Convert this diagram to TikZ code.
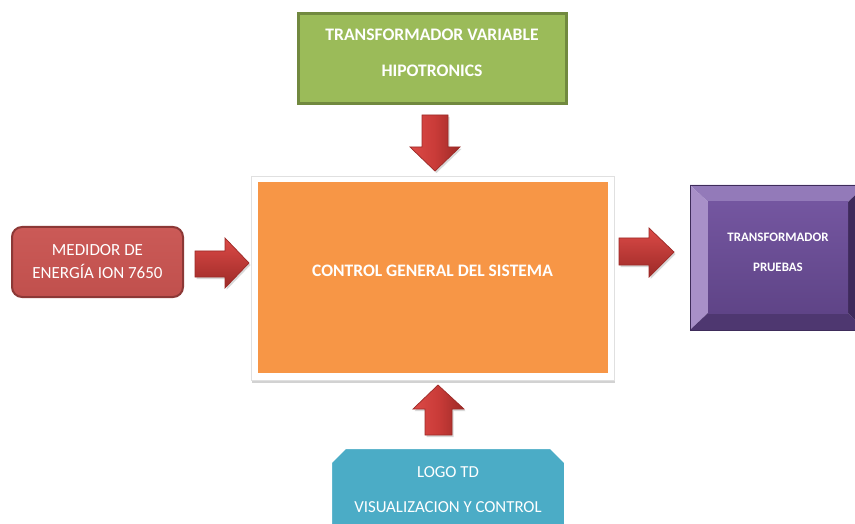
\documentclass[tikz,border=0pt]{standalone}
\usepackage{fontspec}
\setmainfont{Carlito}
\usetikzlibrary{shadows}
\definecolor{greenF}{HTML}{9BBB59}
\definecolor{greenD}{HTML}{71893F}
\definecolor{orangeF}{HTML}{F79646}
\definecolor{redF}{HTML}{C0504D}
\definecolor{redL}{HTML}{CB5A57}
\definecolor{redD}{HTML}{8C3836}
\definecolor{arrL}{HTML}{DC4A47}
\definecolor{arrM}{HTML}{C93B38}
\definecolor{arrD}{HTML}{9C2A27}
\definecolor{blueF}{HTML}{4BACC6}
\definecolor{purpC}{HTML}{7456A0}
\definecolor{purpC2}{HTML}{5F4487}
\definecolor{purpT}{HTML}{937AB9}
\definecolor{purpL}{HTML}{A890C8}
\definecolor{purpB}{HTML}{4E3770}
\definecolor{purpR}{HTML}{3E2A5B}
\tikzset{
  greenbox/.style={draw=greenD, line width=3, fill=greenF, inner sep=0},
  greentext/.style={text=white, font=\bfseries\fontsize{17.6}{36}\selectfont,
    align=center, inner sep=0},
  redbox/.style={draw=redD, line width=2, rounded corners=10, top color=redL,
    bottom color=redF, text=white, font=\fontsize{17}{23}\selectfont,
    align=center, inner sep=0},
  framebox/.style={fill=white, draw=black!12, line width=0.8,
    drop shadow={shadow xshift=1, shadow yshift=2.5, opacity=0.35}, inner sep=0},
  orangebox/.style={fill=orangeF, inner sep=0},
  whitebold/.style={text=white, font=\bfseries\fontsize{17.5}{20}\selectfont},
  purptext/.style={text=white, font=\bfseries\fontsize{12.9}{30}\selectfont, align=center},
  bluetext/.style={text=white, font=\fontsize{16.8}{35}\selectfont, align=center},
  blockarrowh/.style={draw=arrD, line width=0.7, top color=arrL, bottom color=arrD,
    drop shadow={shadow xshift=1.5, shadow yshift=2, opacity=0.3}},
  blockarrowv/.style={draw=arrD, line width=0.7, left color=arrL, right color=arrD,
    middle color=arrM, drop shadow={shadow xshift=1.5, shadow yshift=2, opacity=0.3}},
}
\begin{document}
\begin{tikzpicture}[x=1pt,y=-1pt]
\useasboundingbox (0,0) rectangle (855,524);
\fill[white] (0,0) rectangle (855,524);

% green box
\node[greenbox, minimum width=268, minimum height=90] (tv) at (432,59) {};
\node[greentext] (tvtxt) at (432,53) {TRANSFORMADOR VARIABLE\\HIPOTRONICS};

% red box
\node[redbox, minimum width=171, minimum height=70] (med) at (97.5,262)
  {MEDIDOR DE\\ENERG\'IA ION 7650};

% central frame and orange box
\node[framebox, minimum width=363, minimum height=204] (frame) at (432.5,278) {};
\node[orangebox, minimum width=350, minimum height=191] (ctrl) at (433,277.5) {};
\node[whitebold] (ctrltxt) at (432.5,271) {CONTROL GENERAL DEL SISTEMA};

% purple bevel box
\coordinate (pA) at (690,185);
\coordinate (pB) at (866,185);
\coordinate (pC) at (866,330);
\coordinate (pD) at (690,330);
\coordinate (pa) at (708,202);
\coordinate (pb) at (848,202);
\coordinate (pc) at (848,313);
\coordinate (pd) at (708,313);
\fill[purpT] (pA) -- (pB) -- (pb) -- (pa) -- cycle;
\fill[purpL] (pA) -- (pa) -- (pd) -- (pD) -- cycle;
\fill[purpB] (pD) -- (pd) -- (pc) -- (pC) -- cycle;
\fill[purpR] (pB) -- (pC) -- (pc) -- (pb) -- cycle;
\shade[top color=purpC, bottom color=purpC2] (pa) rectangle (pc);
\draw[purpB!80!black, line width=0.8] (pA) rectangle (pC);
\node[purptext] (tp) at (778,252) {TRANSFORMADOR\\PRUEBAS};

% blue snipped box
\draw[white, line width=4, fill=blueF,
  drop shadow={shadow xshift=0.5, shadow yshift=1.5, opacity=0.25}]
  (330,540) -- (330,462) -- (345,447) -- (551,447) -- (566,462) -- (566,540);
\node[bluetext] (logo) at (448,490) {LOGO TD\\VISUALIZACION Y CONTROL};

% block arrows
\draw[blockarrowv]
  (422,115) -- (448,115) -- (448,147) -- (460,147) -- (435,171) -- (410,147)
  -- (422,147) -- cycle;
\draw[blockarrowh]
  (195,251) -- (225,251) -- (225,238) -- (249,263) -- (225,288) -- (225,277)
  -- (195,277) -- cycle;
\draw[blockarrowh]
  (619,238) -- (649,238) -- (649,228) -- (674,252) -- (649,277) -- (649,265)
  -- (619,265) -- cycle;
\draw[blockarrowv]
  (425,435) -- (425,409) -- (413,409) -- (438,385) -- (464,409) -- (452,409)
  -- (452,435) -- cycle;
\end{tikzpicture}
\end{document}
